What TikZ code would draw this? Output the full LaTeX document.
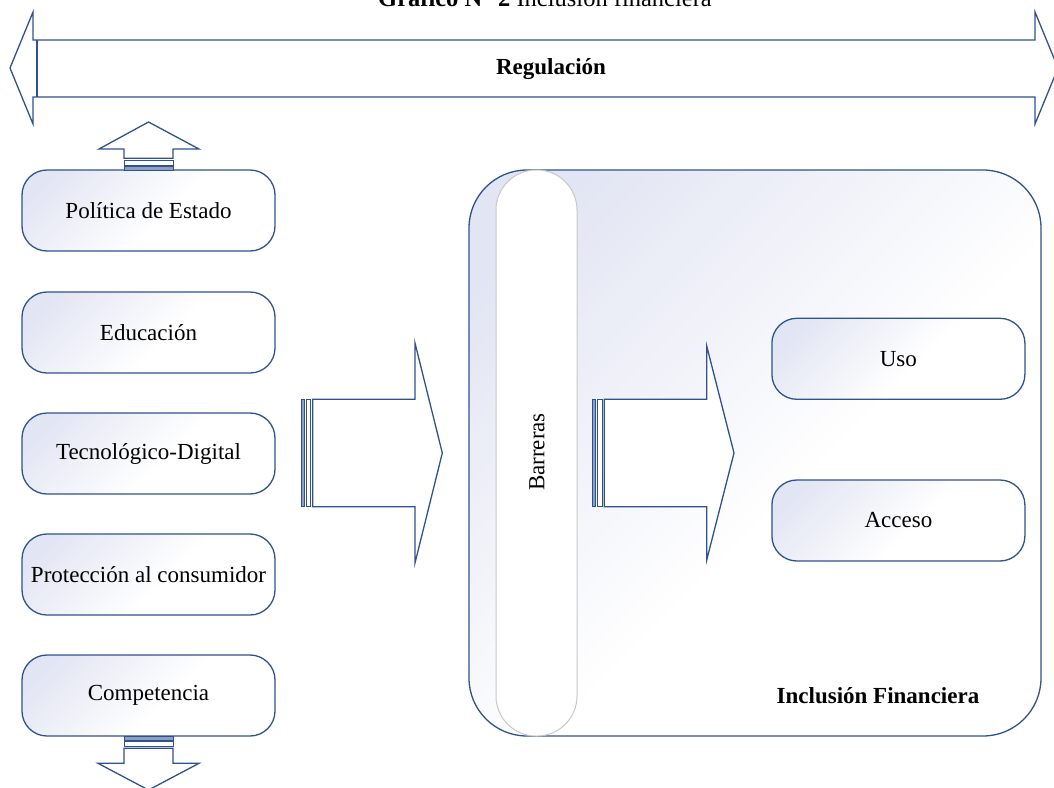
\documentclass[tikz,border=0pt]{standalone}
\usepackage{fontspec}
\setmainfont{Liberation Serif}

\definecolor{edge}{RGB}{47,82,143}
\definecolor{tint}{RGB}{226,229,243}
\definecolor{pillgray}{RGB}{200,200,200}

% soft fill: tinted top-left corner fading to white
\pgfdeclareverticalshading{softfade}{100bp}{%
  color(0bp)=(white); color(45bp)=(white); color(78bp)=(tint); color(100bp)=(tint)}

\tikzset{
  lbl/.style={font=\fontsize{23}{27}\selectfont, text=black},
  card/.style={draw=edge, line width=1.3pt, rounded corners=25pt,
    shade, shading=softfade, shading angle=45,
    minimum width=253pt, minimum height=81pt, inner sep=0pt, lbl},
  frame/.style={draw=edge, line width=1.3pt, rounded corners=58pt,
    shade, shading=softfade, shading angle=45,
    minimum width=572pt, minimum height=566pt, inner sep=0pt},
  pill/.style={draw=pillgray, line width=1pt, fill=white, rounded corners=40pt,
    minimum width=81pt, minimum height=566pt, inner sep=0pt},
  blockarrow/.style={draw=edge, line width=1.3pt, fill=white, line join=miter},
  barfill/.style={draw=edge, line width=1pt, fill=edge!55},
  barwhite/.style={draw=edge, line width=1pt, fill=white},
}

\begin{document}
\begin{tikzpicture}[x=1pt, y=-1pt]
  \useasboundingbox (0,0) rectangle (1054,787);
  \clip (0,0) rectangle (1054,787);

  % heading
  \node[lbl, font=\fontsize{24.5}{28}\selectfont, anchor=base] (heading) at (545,6)
    {\textbf{Gráfico N° 2} Inclusión financiera};

  % regulation double arrow
  \draw[blockarrow] (10,68) -- (33,12) -- (33,40) -- (1035,40) -- (1035,12)
    -- (1058,68) -- (1035,124) -- (1035,97) -- (33,97) -- (33,124) -- cycle;
  \draw[draw=edge, line width=1.3pt] (37,40) -- (37,97);
  \node[lbl, font=\fontsize{23}{27}\selectfont\bfseries] (reg) at (551,69) {Regulación};

  % policy boxes
  \node[card] (pol)  at (148.5,210.5) {Política de Estado};
  \node[card] (edu)  at (148.5,332.5) {Educación};
  \node[card] (tec)  at (148.5,453.5) {Tecnológico-Digital};
  \node[card] (pro)  at (148.5,574.5) {Protección al consumidor};
  \node[card] (com)  at (148.5,695.5) {Competencia};

  % striped arrow up
  \draw[barfill]  (124,166.7) rectangle (173,170);
  \draw[barwhite] (124,160.3) rectangle (173,165);
  \draw[blockarrow] (124,158.3) -- (124,149) -- (99,149) -- (148.5,122)
    -- (199,149) -- (173,149) -- (173,158.3) -- cycle;

  % striped arrow down
  \draw[barfill]  (124,736.7) rectangle (173,740);
  \draw[barwhite] (124,741.7) rectangle (173,746.3);
  \draw[blockarrow] (124,748.3) -- (124,763.3) -- (98,763.3) -- (148.5,790)
    -- (199,763.3) -- (173,763.3) -- (173,748.3) -- cycle;

  % striped arrow towards the barriers
  \draw[barfill]  (301,399.3) rectangle (304.3,506.7);
  \draw[barwhite] (306,399.3) rectangle (310.7,506.7);
  \draw[blockarrow] (312.7,399.3) -- (415,399.3) -- (415,343) -- (442.3,453)
    -- (415,563) -- (415,506.7) -- (312.7,506.7) -- cycle;

  % financial inclusion frame
  \node[frame] (fin) at (755,453) {};
  \node[lbl, font=\fontsize{23}{27}\selectfont\bfseries] (fintitle) at (878,696)
    {Inclusión Financiera};

  % barriers
  \node[pill] (bar) at (536.5,453) {};
  \node[lbl, rotate=90] (bartext) at (537,452) {Barreras};

  % striped arrow from the barriers
  \draw[barfill]  (592.7,399.3) rectangle (595.7,506.7);
  \draw[barwhite] (597.3,399.3) rectangle (602.7,506.7);
  \draw[blockarrow] (604.3,399.3) -- (706.7,399.3) -- (706.7,346) -- (734,453)
    -- (706.7,560) -- (706.7,506.7) -- (604.3,506.7) -- cycle;

  % dimensions
  \node[card] (uso) at (898.4,358.8) {Uso};
  \node[card] (acc) at (898.4,520.5) {Acceso};
\end{tikzpicture}
\end{document}
